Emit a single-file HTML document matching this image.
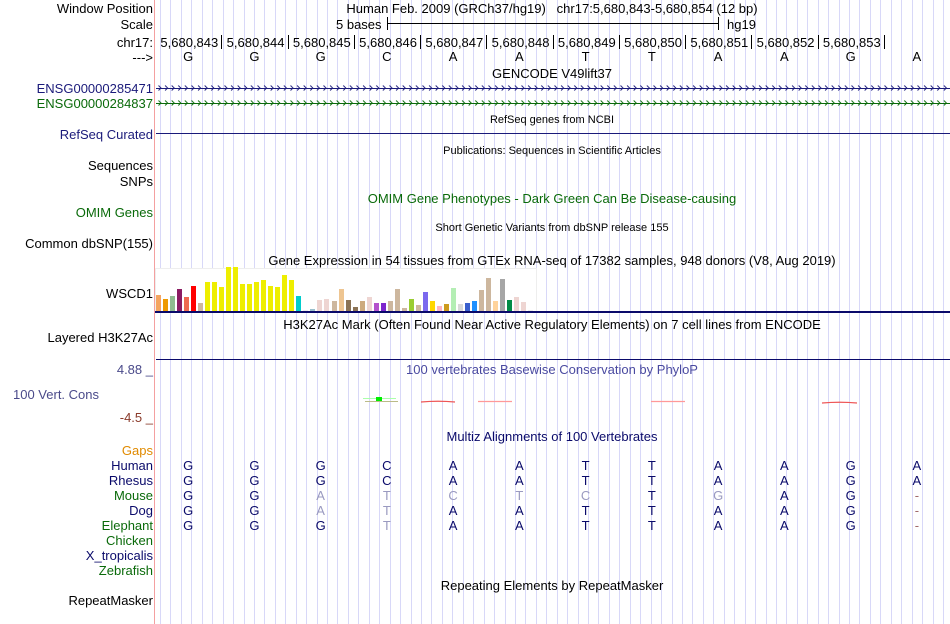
<!DOCTYPE html>
<html><head><meta charset="utf-8"><style>
body{margin:0;width:950px;height:624px;background:#fff;position:relative;overflow:hidden;font-family:"Liberation Sans",sans-serif;font-size:13px}
div,span,svg{position:absolute}
#grid,#ruler,#gtex,#align{position:static}
.l{right:797px;text-align:right;white-space:nowrap}
.c{white-space:nowrap;transform:translateX(-50%)}
.gl{top:0;width:1px;height:624px;background:#d8d8f8}
.s{font-size:11px}
</style></head><body>
<div id="grid"></div>
<div style="left:154px;top:0;width:1px;height:624px;background:#f4a0a0"></div>

<div class="l" style="top:1px">Window Position</div>
<div class="l" style="top:17px">Scale</div>
<div class="l" style="top:35px">chr17:</div>
<div class="l" style="top:50px">---&gt;</div>
<div class="c" style="left:552px;top:1px">Human Feb. 2009 (GRCh37/hg19) &nbsp; chr17:5,680,843-5,680,854 (12 bp)</div>
<div style="left:336px;top:17px">5 bases</div>
<div style="left:387px;top:23px;width:331px;height:1px;background:#000"></div>
<div style="left:387px;top:17px;width:1px;height:13px;background:#000"></div>
<div style="left:718px;top:17px;width:1px;height:13px;background:#000"></div>
<div style="left:727px;top:17px">hg19</div>
<div id="ruler"></div>
<div class="c" style="left:552px;top:66px">GENCODE V49lift37</div>
<div class="l" style="top:81px;color:#1a1a7a">ENSG00000285471</div>
<div class="l" style="top:96px;color:#0a6a0a">ENSG00000284837</div>
<svg style="left:156px;top:82px" width="794" height="26">
<defs>
<pattern id="pa" x="0" y="0" width="6.6" height="12" patternUnits="userSpaceOnUse"><path d="M2.5 3.5 L5 6 L2.5 8.5" fill="none" stroke="#1a1a7a" stroke-width="0.9"/></pattern>
<pattern id="pb" x="0" y="15" width="6.6" height="12" patternUnits="userSpaceOnUse"><path d="M2.5 3.5 L5 6 L2.5 8.5" fill="none" stroke="#0a6a0a" stroke-width="0.9"/></pattern>
</defs>
<rect x="0" y="0" width="794" height="12" fill="url(#pa)"/>
<line x1="0" x2="794" y1="6.5" y2="6.5" stroke="#1a1a7a"/>
<rect x="0" y="15" width="794" height="11" fill="url(#pb)"/>
<line x1="0" x2="794" y1="21.5" y2="21.5" stroke="#0a6a0a"/>
</svg>
<div class="c s" style="left:552px;top:114px">RefSeq genes from NCBI</div>
<div class="l" style="top:127px;color:#1a1a7a">RefSeq Curated</div>
<div style="left:156px;top:133px;width:794px;height:1px;background:#1a1a7a"></div>
<div class="c s" style="left:552px;top:145px">Publications: Sequences in Scientific Articles</div>
<div class="l" style="top:158px">Sequences</div>
<div class="l" style="top:174px">SNPs</div>
<div class="c" style="left:552px;top:191px;color:#0a6a0a">OMIM Gene Phenotypes - Dark Green Can Be Disease-causing</div>
<div class="l" style="top:205px;color:#0a6a0a">OMIM Genes</div>
<div class="c s" style="left:552px;top:222px">Short Genetic Variants from dbSNP release 155</div>
<div class="l" style="top:236px">Common dbSNP(155)</div>
<div class="c" style="left:552px;top:253px">Gene Expression in 54 tissues from GTEx RNA-seq of 17382 samples, 948 donors (V8, Aug 2019)</div>
<div class="l" style="top:286px">WSCD1</div>
<div style="left:155px;top:268px;width:380px;height:43px;background:#fff;border:1px solid #eee;border-bottom:none"></div>
<div id="gtex"></div>
<div style="left:155px;top:311px;width:795px;height:2px;background:#0a0a6a"></div>
<div class="c" style="left:552px;top:317px">H3K27Ac Mark (Often Found Near Active Regulatory Elements) on 7 cell lines from ENCODE</div>
<div class="l" style="top:330px">Layered H3K27Ac</div>
<div style="left:156px;top:359px;width:794px;height:1px;background:#0a0a6a"></div>
<div class="l" style="top:362px;color:#4a4a8a">4.88 _</div>
<div class="c" style="left:552px;top:362px;color:#4a4aa0">100 vertebrates Basewise Conservation by PhyloP</div>
<div style="left:13px;top:387px;color:#4a4a8a">100 Vert. Cons</div>
<div class="l" style="top:410px;color:#8a3a2a">-4.5 _</div>
<svg style="left:0;top:390px" width="950" height="20">
<line x1="363" x2="396" y1="8.5" y2="8.5" stroke="#afa"/>
<line x1="365" x2="398" y1="11.5" y2="11.5" stroke="#bb8"/>
<rect x="376" y="7" width="6" height="4" fill="#0e0"/>
<path d="M421 12 Q438 10.5 455 12" stroke="#e55" fill="none" stroke-width="1.2"/>
<line x1="478" x2="512" y1="11.5" y2="11.5" stroke="#f99" stroke-width="1.2"/>
<line x1="651" x2="685" y1="11.5" y2="11.5" stroke="#f99" stroke-width="1.2"/>
<path d="M822 13 Q840 11.5 857 13" stroke="#e55" fill="none" stroke-width="1.2"/>
</svg>
<div class="c" style="left:552px;top:429px;color:#0a0a6a">Multiz Alignments of 100 Vertebrates</div>
<div class="l" style="top:443px;color:#e08a00">Gaps</div>
<div id="align"></div>
<div class="l" style="top:533px;color:#0a6a0a">Chicken</div>
<div class="l" style="top:548px;color:#0a0a6a">X_tropicalis</div>
<div class="l" style="top:563px;color:#0a6a0a">Zebrafish</div>
<div class="c" style="left:552px;top:578px">Repeating Elements by RepeatMasker</div>
<div class="l" style="top:593px">RepeatMasker</div>

<script>
const bases=['G','G','G','C','A','A','T','T','A','A','G','A'];
const positions=['5,680,843','5,680,844','5,680,845','5,680,846','5,680,847','5,680,848','5,680,849','5,680,850','5,680,851','5,680,852','5,680,853'];
const gtexValues=[16,12,15,22,14,25,8,29,29,24,44,44,27,27,29,31,25,24,36,31,15,1,2,11,12,10,22,11,4,10,14,8,8,10,22,3,12,6,19,10,5,7,23,7,8,10,21,33,10,32,11,14,9,1];
const gtexColors=['#f4a460','#ee9a00','#8fbc8f','#8b1c62','#ee6a50','#ff0000','#cdb79e','#eeee00','#eeee00','#eeee00','#eeee00','#eeee00','#eeee00','#eeee00','#eeee00','#eeee00','#eeee00','#eeee00','#eeee00','#eeee00','#00cdcd','#eeeeee','#9ac0cd','#eed5d2','#eed5d2','#cdb79e','#eec591','#8b7355','#8b7355','#cdaa7d','#eed5d2','#b452cd','#7d26cd','#cdb79e','#cdb79e','#cdb79e','#9acd32','#cdb79e','#7b68ee','#ffd700','#ffb6c1','#cd9b1d','#b4eeb4','#d9d9d9','#3a5fcd','#1e90ff','#cdb79e','#cdb79e','#ffd39b','#a6a6a6','#008b45','#eed5d2','#eed5d2','#eeeeee'];
const species=['Human','Rhesus','Mouse','Dog','Elephant'];
const speciesColors=['#0a0a6a','#0a0a6a','#0a6a0a','#0a0a6a','#0a6a0a'];
const alignRows=['GGGCAATTAAGA','GGGCAATTAAGA','GGATCTCTGAG-','GGATAATTAAG-','GGGTAATTAAG-'];
const x0=155,bw=66.25;
const xc=i=>x0+bw*(i+0.5);
const grid=document.getElementById('grid');
for(let x=160;x<950;x+=10.44){const d=document.createElement('div');d.className='gl';d.style.left=Math.round(x)+'px';


grid.appendChild(d);}
const ruler=document.getElementById('ruler');
positions.forEach((p,i)=>{const t=document.createElement('div');t.style.cssText=`top:35px;white-space:nowrap;right:${950-(x0+bw*(i+1))+3}px`;t.textContent=p;


ruler.appendChild(t);
const k=document.createElement('div');k.style.cssText=`top:35px;left:${Math.round(x0+bw*(i+1))}px;width:1px;height:14px;background:#000`;


ruler.appendChild(k);});
bases.forEach((b,i)=>{const t=document.createElement('div');t.className='c';t.style.cssText=`top:49px;left:${xc(i)}px`;t.textContent=b;


ruler.appendChild(t);});
const g=document.getElementById('gtex');const yb=311,sc=1.0;
gtexValues.forEach((v,i)=>{const d=document.createElement('div');const h=v*sc;d.style.cssText=`left:${156+i*7.02}px;top:${yb-h}px;width:5px;height:${h}px;background:${gtexColors[i]}`;


g.appendChild(d);});
const al=document.getElementById('align');
species.forEach((s,r)=>{const y=458+r*15;const l=document.createElement('div');l.className='l';l.style.cssText=`top:${y}px;color:${speciesColors[r]}`;l.textContent=s;


al.appendChild(l);
alignRows[r].split('').forEach((b,i)=>{const t=document.createElement('div');t.className='c';const same=b===bases[i];
t.style.cssText=`top:${y}px;left:${xc(i)}px;color:${b==='-'?'#a06a6a':(same?'#0a0a6a':'#9a9ac0')}`;t.textContent=b;


al.appendChild(t);});});
</script>
</body></html>
